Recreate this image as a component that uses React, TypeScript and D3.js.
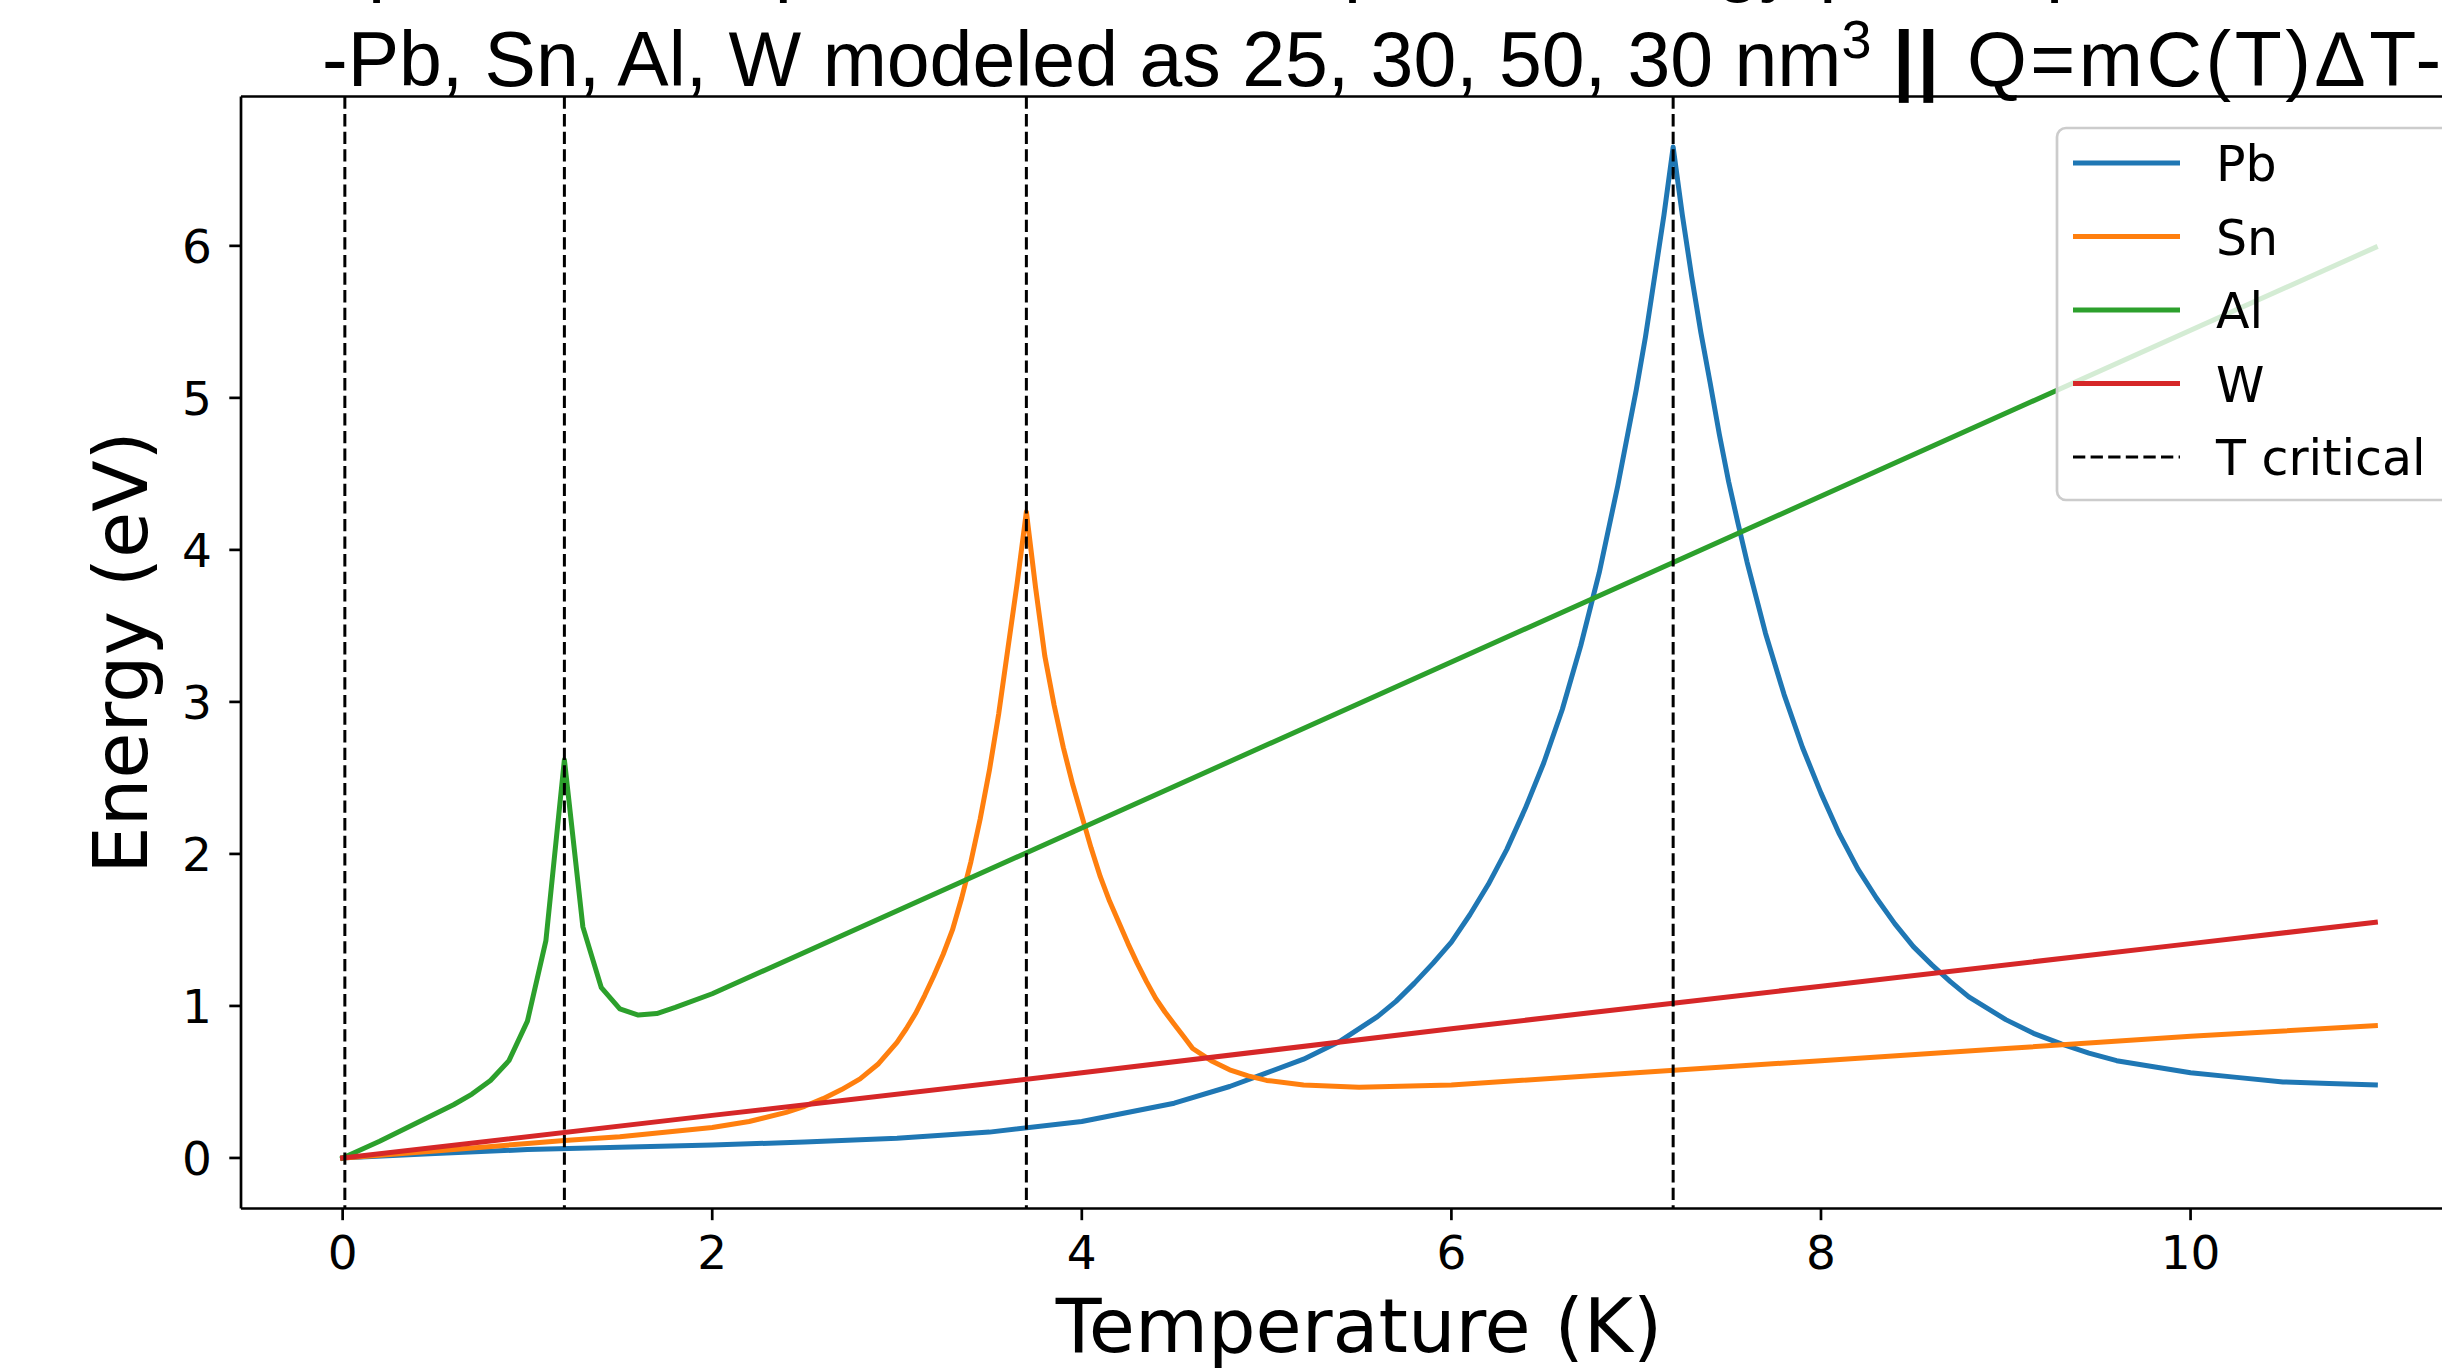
import React from 'react';
import * as d3 from 'd3';

const W = 2442;
const H = 1370;

const xTicks = [0, 2, 4, 6, 8, 10];
const yTicks = [0, 1, 2, 3, 4, 5, 6];
const tCritical = [0.012, 1.2, 3.7, 7.2];

const pbT = [0, 0.5, 1, 1.5, 2, 2.5, 3, 3.5, 4, 4.5, 4.8, 5, 5.2, 5.4, 5.6, 5.7, 5.8, 5.9, 6, 6.1, 6.2, 6.3, 6.4, 6.5, 6.6, 6.7, 6.8, 6.9, 7, 7.05, 7.1, 7.15, 7.2, 7.25, 7.3, 7.35, 7.4, 7.45, 7.5, 7.55, 7.6, 7.7, 7.8, 7.9, 8, 8.1, 8.2, 8.3, 8.4, 8.5, 8.6, 8.7, 8.8, 9, 9.15, 9.3, 9.45, 9.6, 9.8, 10, 10.25, 10.5, 10.75, 11];
const pbE = [0, 0.03, 0.055, 0.07, 0.085, 0.105, 0.13, 0.17, 0.24, 0.36, 0.47, 0.56, 0.65, 0.77, 0.93, 1.03, 1.15, 1.28, 1.42, 1.6, 1.8, 2.03, 2.3, 2.6, 2.95, 3.37, 3.85, 4.42, 5.05, 5.4, 5.8, 6.2, 6.65, 6.2, 5.8, 5.43, 5.1, 4.76, 4.45, 4.18, 3.92, 3.45, 3.05, 2.7, 2.4, 2.13, 1.9, 1.71, 1.54, 1.39, 1.27, 1.16, 1.06, 0.91, 0.82, 0.75, 0.69, 0.64, 0.6, 0.56, 0.53, 0.5, 0.49, 0.48];

const snT = [0, 0.5, 1, 1.2, 1.5, 2, 2.2, 2.4, 2.5, 2.6, 2.7, 2.8, 2.9, 3, 3.05, 3.1, 3.15, 3.2, 3.25, 3.3, 3.35, 3.4, 3.45, 3.5, 3.55, 3.6, 3.65, 3.7, 3.75, 3.8, 3.85, 3.9, 3.95, 4, 4.05, 4.1, 4.15, 4.2, 4.25, 4.3, 4.35, 4.4, 4.45, 4.5, 4.55, 4.6, 4.7, 4.8, 4.9, 5, 5.2, 5.5, 6, 7, 8, 9, 10, 11];
const snE = [0, 0.045, 0.095, 0.115, 0.14, 0.2, 0.24, 0.3, 0.34, 0.39, 0.45, 0.52, 0.62, 0.76, 0.85, 0.95, 1.07, 1.2, 1.34, 1.5, 1.71, 1.95, 2.23, 2.55, 2.92, 3.35, 3.78, 4.25, 3.75, 3.3, 2.98, 2.7, 2.46, 2.25, 2.04, 1.85, 1.69, 1.55, 1.41, 1.28, 1.16, 1.05, 0.96, 0.88, 0.8, 0.72, 0.64, 0.58, 0.54, 0.51, 0.48, 0.465, 0.48, 0.56, 0.64, 0.72, 0.8, 0.87];

const alT = [0, 0.2, 0.4, 0.6, 0.7, 0.8, 0.9, 1, 1.1, 1.2, 1.3, 1.4, 1.5, 1.6, 1.7, 1.8, 2, 11];
const alE = [0, 0.11, 0.23, 0.35, 0.42, 0.51, 0.64, 0.9, 1.43, 2.62, 1.52, 1.12, 0.98, 0.94, 0.95, 0.99, 1.08, 5.99];

const wT = [0, 2, 4, 6, 8, 10, 11];
const wE = [0, 0.28, 0.56, 0.85, 1.13, 1.41, 1.55];

const seriesNames = ['Pb', 'Sn', 'Al', 'W'];
const seriesColors = ['#1f77b4', '#ff7f0e', '#2ca02c', '#d62728'];
const legendLabels = ['Pb', 'Sn', 'Al', 'W', 'T critical'];

const titleLine1 = 'Temperature Dependence of Required Energy per Superconductor';
const titleLine2a = '-Pb, Sn, Al, W modeled as 25, 30, 50, 30 nm';
const titleLine2b = 'Q=mC(T)\u0394T-';

export default function App() {
  const left = 241, right = 2477, top = 96.5, bottom = 1208.5;
  const x = d3.scaleLinear().domain([-0.55, 11.55]).range([left, right]);
  const y = d3.scaleLinear().domain([-0.3325, 6.9825]).range([bottom, top]);
  const line = d3.line<[number, number]>().x(d => x(d[0])).y(d => y(d[1]));

  const series = [
    pbT.map((t, i) => [t, pbE[i]] as [number, number]),
    snT.map((t, i) => [t, snE[i]] as [number, number]),
    alT.map((t, i) => [t, alE[i]] as [number, number]),
    wT.map((t, i) => [t, wE[i]] as [number, number]),
  ];

  const font = 'DejaVu Sans';
  const tickLen = 11.7;
  const lgTop = 128, lgLeft = 2057;
  const lgStep = 73.5;

  return (
    <svg width={W} height={H} style={{ position: 'fixed', left: 0, top: 0, background: '#fff' }}>
      <rect x={0} y={0} width={W} height={H} fill="#fff" />
      {/* title */}
      <text x={(left + right) / 2} y={-13} textAnchor="middle" fontFamily="Liberation Sans" fontSize={77} fill="#000">{titleLine1}</text>
      <text x={322} y={86} fontFamily="Liberation Sans" fontSize={77} fill="#000">
        {titleLine2a}
        <tspan fontSize={54} dy={-28}>3</tspan>
        <tspan dy={28}> </tspan>
        <tspan fontWeight="bold" letterSpacing={3}>||</tspan>
        <tspan letterSpacing={3.5}> {titleLine2b}</tspan>
      </text>

      {/* series */}
      {series.map((s, i) => (
        <path key={seriesNames[i]} d={line(s) || ''} fill="none" stroke={seriesColors[i]} strokeWidth={5} strokeLinejoin="round" strokeLinecap="square" />
      ))}
      {/* critical temps */}
      {tCritical.map((t, i) => (
        <line key={i} x1={x(t)} x2={x(t)} y1={top} y2={bottom} stroke="#000" strokeWidth={3} strokeDasharray="12.3 5.3" />
      ))}

      {/* spines */}
      <line x1={left} x2={left} y1={top} y2={bottom} stroke="#000" strokeWidth={2.7} />
      <line x1={left} x2={right} y1={bottom} y2={bottom} stroke="#000" strokeWidth={2.7} />
      <line x1={left} x2={right} y1={top} y2={top} stroke="#000" strokeWidth={2.7} />
      <line x1={right} x2={right} y1={top} y2={bottom} stroke="#000" strokeWidth={2.7} />

      {/* x ticks */}
      {xTicks.map(t => (
        <g key={'x' + t}>
          <line x1={x(t)} x2={x(t)} y1={bottom} y2={bottom + tickLen} stroke="#000" strokeWidth={2.7} />
          <text x={x(t)} y={1269} textAnchor="middle" fontFamily={font} fontSize={47} fill="#000">{t}</text>
        </g>
      ))}
      {/* y ticks */}
      {yTicks.map(t => (
        <g key={'y' + t}>
          <line x1={left - tickLen} x2={left} y1={y(t)} y2={y(t)} stroke="#000" strokeWidth={2.7} />
          <text x={212} y={y(t) + 17} textAnchor="end" fontFamily={font} fontSize={47} fill="#000">{t}</text>
        </g>
      ))}

      {/* axis labels */}
      <text x={(left + right) / 2} y={1352} textAnchor="middle" fontFamily={font} fontSize={75} fill="#000">Temperature (K)</text>
      <text transform={`translate(147, ${(top + bottom) / 2}) rotate(-90)`} textAnchor="middle" fontFamily={font} fontSize={75} fill="#000">Energy (eV)</text>

      {/* legend */}
      <rect x={lgLeft} y={lgTop} width={440} height={372} rx={9} ry={9} fill="#fff" fillOpacity={0.8} stroke="#cccccc" strokeWidth={2.7} />
      {legendLabels.map((lab, i) => {
        const cy = 163 + i * lgStep;
        const isCrit = i === 4;
        return (
          <g key={lab}>
            <line x1={2073} x2={2180} y1={cy} y2={cy} stroke={isCrit ? '#000' : seriesColors[i]} strokeWidth={isCrit ? 3 : 5} strokeDasharray={isCrit ? '12.3 5.3' : undefined} />
            <text x={2216} y={cy + 18} fontFamily={font} fontSize={49} fill="#000">{lab}</text>
          </g>
        );
      })}
    </svg>
  );
}
